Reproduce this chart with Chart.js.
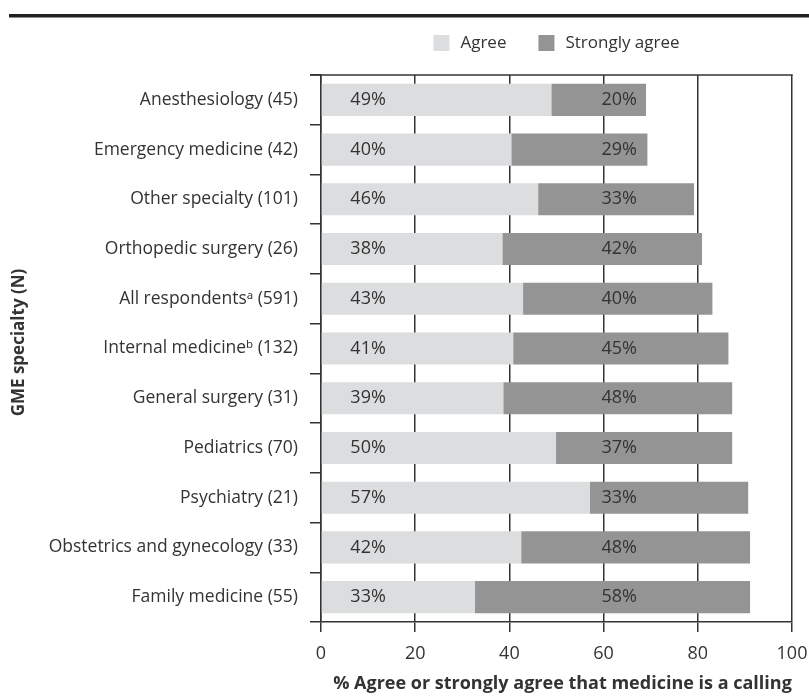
<!DOCTYPE html>
<html>
<head>
<meta charset="utf-8">
<script src="https://cdn.jsdelivr.net/npm/chart.js@4.4.1/dist/chart.umd.min.js"></script>
<style>
  html, body { margin: 0; padding: 0; background: #ffffff; }
  #wrap { width: 809px; height: 700px; position: relative; }
</style>
</head>
<body>
<div id="wrap"><canvas id="c" width="809" height="700"></canvas></div>
<script>
const categories = [
  "Anesthesiology (45)",
  "Emergency medicine (42)",
  "Other specialty (101)",
  "Orthopedic surgery (26)",
  "All respondents\u1D43 (591)",
  "Internal medicine\u1D47 (132)",
  "General surgery (31)",
  "Pediatrics (70)",
  "Psychiatry (21)",
  "Obstetrics and gynecology (33)",
  "Family medicine (55)"
];
const agreeValues    = [48.9, 40.4, 46.1, 38.5, 42.9, 40.8, 38.7, 49.9, 57.1, 42.5, 32.7];
const stronglyValues = [20.1, 28.9, 33.1, 42.4, 40.2, 45.7, 48.6, 37.4, 33.6, 48.6, 58.4];
const agreeLabels    = ["49%","40%","46%","38%","43%","41%","39%","50%","57%","42%","33%"];
const stronglyLabels = ["20%","29%","33%","42%","40%","45%","48%","37%","33%","48%","58%"];
const xTicks = [0, 20, 40, 60, 80, 100];
const seriesNames = ["Agree", "Strongly agree"];
const xTitle = "% Agree or strongly agree that medicine is a calling";
const yTitle = "GME specialty (N)";

const FONT = "'Open Sans', 'Noto Sans', 'DejaVu Sans', sans-serif";
const TEXT = "#333333";
const LINE = "#333333";
const AGREE_COLOR = "#dcdddf";
const STRONG_COLOR = "#949495";

const decor = {
  id: 'decor',
  afterDatasetsDraw(chart) {
    const ctx = chart.ctx;
    const xs = chart.scales.x, ys = chart.scales.y;
    ctx.save();
    ctx.font = "18px " + FONT;
    ctx.fillStyle = TEXT;
    ctx.textBaseline = 'middle';
    ctx.textAlign = 'center';
    categories.forEach((c, i) => {
      const y = ys.getPixelForValue(i);
      ctx.fillText(agreeLabels[i], xs.getPixelForValue(10), y);
      ctx.fillText(stronglyLabels[i], xs.getPixelForValue(63.3), y);
    });
    ctx.restore();
  },
  afterDraw(chart) {
    const ctx = chart.ctx;
    const area = chart.chartArea;
    ctx.save();
    // top border of plot
    ctx.strokeStyle = LINE;
    ctx.lineWidth = 1.5;
    ctx.beginPath();
    ctx.moveTo(area.left - 11, area.top);
    ctx.lineTo(area.right + 0.75, area.top);
    ctx.stroke();
    // thick rule at top of figure
    ctx.fillStyle = "#231f20";
    ctx.fillRect(9, 14, chart.width - 9, 3.5);
    // legend
    ctx.font = "17px " + FONT;
    ctx.textBaseline = 'middle';
    ctx.textAlign = 'left';
    const box = 16, gapBoxText = 11, gapItems = 32;
    const w0 = ctx.measureText(seriesNames[0]).width;
    const w1 = ctx.measureText(seriesNames[1]).width;
    const total = box + gapBoxText + w0 + gapItems + box + gapBoxText + w1;
    let x = (area.left + area.right) / 2 - total / 2;
    const cy = 43;
    const colors = [AGREE_COLOR, STRONG_COLOR];
    [w0, w1].forEach((w, i) => {
      ctx.fillStyle = colors[i];
      ctx.fillRect(x, cy - box / 2, box, box);
      x += box + gapBoxText;
      ctx.fillStyle = TEXT;
      ctx.fillText(seriesNames[i], x, cy);
      x += w + gapItems;
    });
    // axis titles
    ctx.fillStyle = TEXT;
    ctx.font = "bold 18px " + FONT;
    ctx.textAlign = 'center';
    ctx.textBaseline = 'middle';
    ctx.fillText(xTitle, (area.left + area.right) / 2 + 6, 684);
    ctx.translate(19.5, (area.top + area.bottom) / 2 - 6);
    ctx.rotate(-Math.PI / 2);
    ctx.font = "bold 17px " + FONT;
    ctx.fillText(yTitle, 0, 0);
    ctx.restore();
  }
};

new Chart(document.getElementById('c'), {
  type: 'bar',
  data: {
    labels: categories,
    datasets: [
      { label: seriesNames[0], data: agreeValues, backgroundColor: AGREE_COLOR, borderWidth: 0,
        barPercentage: 0.645, categoryPercentage: 1.0 },
      { label: seriesNames[1], data: stronglyValues, backgroundColor: STRONG_COLOR, borderWidth: 0,
        barPercentage: 0.645, categoryPercentage: 1.0 }
    ]
  },
  options: {
    indexAxis: 'y',
    responsive: false,
    animation: false,
    devicePixelRatio: 1,
    layout: { padding: { top: 75, right: 17, bottom: 0, left: 0 } },
    plugins: {
      legend: { display: false },
      title: { display: false },
      tooltip: { enabled: false }
    },
    scales: {
      x: {
        stacked: true,
        min: 0,
        max: 100,
        afterBuildTicks(scale) { scale.ticks = xTicks.map(v => ({ value: v })); },
        afterFit(scale) { scale.height = 78; scale.paddingLeft = 0; scale.paddingRight = 0; },
        grid: { display: true, drawOnChartArea: true, drawTicks: true, tickLength: 10,
                color: LINE, tickColor: LINE, lineWidth: 1.5 },
        border: { display: true, color: LINE, width: 1.5 },
        ticks: { color: TEXT, font: { family: FONT, size: 18 }, padding: 11, maxRotation: 0 },
        title: { display: false }
      },
      y: {
        stacked: true,
        afterFit(scale) { scale.width = 321; scale.paddingTop = 0; scale.paddingBottom = 0; },
        grid: { display: true, drawOnChartArea: false, drawTicks: true, tickLength: 11,
                offset: true, color: LINE, tickColor: LINE, lineWidth: 1.5 },
        border: { display: true, color: LINE, width: 1.5 },
        ticks: { color: TEXT, font: { family: FONT, size: 17.5 }, padding: 12, autoSkip: false },
        title: { display: false }
      }
    }
  },
  plugins: [decor]
});
</script>
</body>
</html>
